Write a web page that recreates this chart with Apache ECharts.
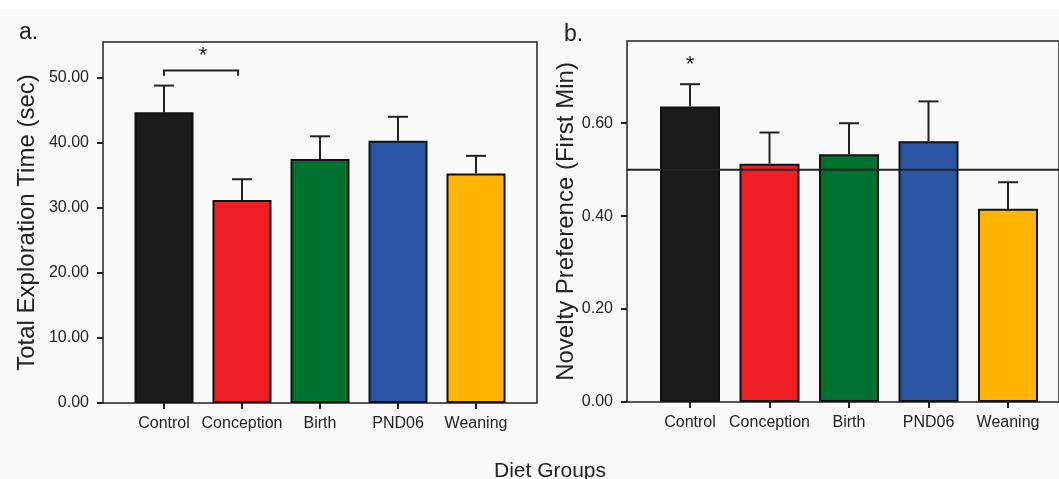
<!DOCTYPE html>
<html>
<head>
<meta charset="utf-8">
<script src="https://cdn.jsdelivr.net/npm/echarts@6/dist/echarts.min.js"></script>
<style>
html,body{margin:0;padding:0;background:#f9f9f9;}
#chart{width:1059px;height:479px;}
</style>
</head>
<body>
<div id="chart"></div>
<script>
// ---- data ----
const categories = ['Control', 'Conception', 'Birth', 'PND06', 'Weaning'];
const barColors = ['#1b1b1b', '#ed1f24', '#00722f', '#2a56a5', '#ffb400'];

const leftMeans = [44.7, 31.2, 37.5, 40.3, 35.3];
const leftUpper = [48.8, 34.4, 41.0, 44.0, 38.0];
const leftTicks = [0, 10, 20, 30, 40, 50];
const leftMax = 55.5;
// bracket: from category, to category, fraction of the way for right end, top value, end value
const leftBracket = [0, 1, 0.95, 51.1, 50.3];
// star: between category a and b at fraction, value
const leftStar = [0, 1, 0.5, 53.4];

const rightMeans = [0.636, 0.513, 0.533, 0.561, 0.416];
const rightUpper = [0.684, 0.580, 0.600, 0.647, 0.473];
const rightTicks = [0, 0.2, 0.4, 0.6];
const rightMax = 0.777;
const refValue = 0.5;
const rightStar = [0, 0, 0, 0.725];

const labels = {
  a: 'a.', b: 'b.',
  leftY: 'Total Exploration Time (sec)',
  rightY: 'Novelty Preference (First Min)',
  x: 'Diet Groups'
};

const FONT = "'Liberation Sans', Arial, sans-serif";
const INK = '#222';

const chart = echarts.init(document.getElementById('chart'));

function errRender(params, api) {
  const i = api.value(0);
  const p0 = api.coord([i, api.value(1)]);
  const p1 = api.coord([i, api.value(2)]);
  return {
    type: 'group',
    children: [
      {type: 'line', shape: {x1: p0[0], y1: p0[1], x2: p1[0], y2: p1[1]}, style: {stroke: INK, lineWidth: 2}},
      {type: 'line', shape: {x1: p1[0] - 10, y1: p1[1], x2: p1[0] + 10, y2: p1[1]}, style: {stroke: INK, lineWidth: 2}}
    ]
  };
}

function bracketRender(params, api) {
  const top = api.value(3), end = api.value(4), f = api.value(2);
  const a = api.coord([api.value(0), top]);
  const bFull = api.coord([api.value(1), top]);
  const bx = a[0] + f * (bFull[0] - a[0]);
  const yEnd = api.coord([api.value(0), end])[1];
  return {
    type: 'polyline',
    shape: {points: [[a[0], yEnd], [a[0], a[1]], [bx, a[1]], [bx, yEnd]]},
    style: {stroke: INK, lineWidth: 2, fill: null}
  };
}

function starRender(params, api) {
  const pa = api.coord([api.value(0), api.value(3)]);
  const pb = api.coord([api.value(1), api.value(3)]);
  const f = api.value(2);
  return {
    type: 'text', x: pa[0] + f * (pb[0] - pa[0]), y: pa[1],
    style: {text: '*', fontSize: 22, fontFamily: FONT, fill: INK, align: 'center', verticalAlign: 'middle'}
  };
}

const yLabelStyle = {fontSize: 16, color: INK, fontFamily: FONT, margin: 14};
const tickStyle = {show: true, length: 6, lineStyle: {color: INK, width: 2}};

chart.setOption({
  backgroundColor: '#f9f9f9',
  animation: false,
  graphic: [
    {type: 'rect', left: 0, top: 0, shape: {width: 1059, height: 9}, style: {fill: '#ffffff'}, z: -1}
  ],
  title: [
    {text: labels.a, left: 14, top: 16, textStyle: {fontSize: 23, fontWeight: 'normal', color: INK, fontFamily: FONT}},
    {text: labels.b, left: 559, top: 18, textStyle: {fontSize: 23, fontWeight: 'normal', color: INK, fontFamily: FONT}},
    {text: labels.x, left: 489, top: 456, textStyle: {fontSize: 21, fontWeight: 'normal', color: INK, fontFamily: FONT}}
  ],
  grid: [
    {left: 103, top: 42, width: 434, height: 361, show: true, borderColor: INK, borderWidth: 1.5, backgroundColor: 'transparent'},
    {left: 125, top: 42, width: 390, height: 361},
    {left: 627, top: 41, width: 444, height: 361, show: true, borderColor: INK, borderWidth: 1.5, backgroundColor: 'transparent'},
    {left: 650.25, top: 41, width: 397.5, height: 361}
  ],
  xAxis: [
    {gridIndex: 0, type: 'value', min: 0, max: 1, show: false},
    {gridIndex: 1, type: 'category', data: categories,
      axisLine: {show: false}, axisTick: Object.assign({alignWithLabel: true}, tickStyle),
      axisLabel: {interval: 0, fontSize: 16, color: INK, fontFamily: FONT, margin: 13}},
    {gridIndex: 2, type: 'value', min: 0, max: 1, show: false},
    {gridIndex: 3, type: 'category', data: categories,
      axisLine: {show: false}, axisTick: Object.assign({alignWithLabel: true}, tickStyle),
      axisLabel: {interval: 0, fontSize: 16, color: INK, fontFamily: FONT, margin: 13}}
  ],
  yAxis: [
    {gridIndex: 0, type: 'value', min: 0, max: 1, show: false},
    {gridIndex: 1, type: 'value', min: 0, max: leftMax, offset: 22,
      axisLine: {show: false}, splitLine: {show: false},
      axisTick: Object.assign({customValues: leftTicks}, tickStyle),
      axisLabel: Object.assign({customValues: leftTicks, formatter: v => v.toFixed(2)}, yLabelStyle),
      name: labels.leftY, nameLocation: 'middle', nameGap: 64,
      nameTextStyle: {fontSize: 24, color: INK, fontFamily: FONT}},
    {gridIndex: 2, type: 'value', min: 0, max: rightMax, show: false},
    {gridIndex: 3, type: 'value', min: 0, max: rightMax, offset: 23.25,
      axisLine: {show: false}, splitLine: {show: false},
      axisTick: Object.assign({customValues: rightTicks}, tickStyle),
      axisLabel: Object.assign({customValues: rightTicks, formatter: v => v.toFixed(2)}, yLabelStyle),
      name: labels.rightY, nameLocation: 'middle', nameGap: 44,
      nameTextStyle: {fontSize: 24, color: INK, fontFamily: FONT}}
  ],
  series: [
    {type: 'bar', xAxisIndex: 1, yAxisIndex: 1, barWidth: 59,
      data: leftMeans.map((v, i) => ({value: v, itemStyle: {color: barColors[i]}})),
      itemStyle: {borderColor: '#111', borderWidth: 2}},
    {type: 'custom', xAxisIndex: 1, yAxisIndex: 1, renderItem: errRender,
      data: leftMeans.map((v, i) => [i, v, leftUpper[i]]), z: 3},
    {type: 'custom', xAxisIndex: 1, yAxisIndex: 1, renderItem: bracketRender, data: [leftBracket], z: 3},
    {type: 'custom', xAxisIndex: 1, yAxisIndex: 1, renderItem: starRender, data: [leftStar], z: 3},

    {type: 'bar', xAxisIndex: 3, yAxisIndex: 3, barWidth: 60,
      data: rightMeans.map((v, i) => ({value: v, itemStyle: {color: barColors[i]}})),
      itemStyle: {borderColor: '#111', borderWidth: 2}},
    {type: 'custom', xAxisIndex: 3, yAxisIndex: 3, renderItem: errRender,
      data: rightMeans.map((v, i) => [i, v, rightUpper[i]]), z: 3},
    {type: 'custom', xAxisIndex: 3, yAxisIndex: 3, renderItem: starRender, data: [rightStar], z: 3},
    {type: 'line', xAxisIndex: 2, yAxisIndex: 2, data: [[0, refValue], [1, refValue]],
      symbol: 'none', lineStyle: {color: INK, width: 2}, z: 5, silent: true}
  ]
});
</script>
</body>
</html>
